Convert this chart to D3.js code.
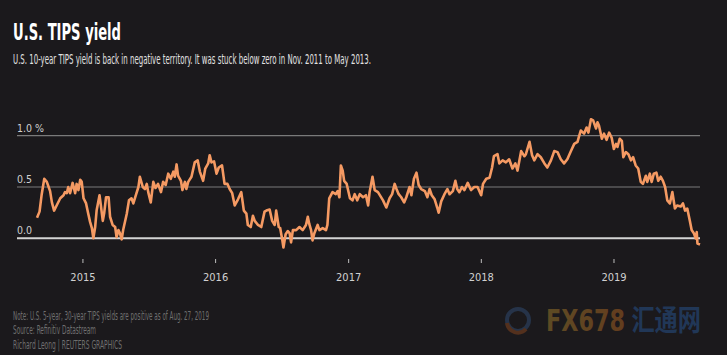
<!DOCTYPE html>
<html>
<head>
<meta charset="utf-8">
<script src="https://cdn.jsdelivr.net/npm/d3@7"></script>
<style>
  html, body { margin: 0; padding: 0; background: #1b191c; }
  svg { display: block; }
  text { font-family: "Liberation Sans Narrow", "DejaVu Sans Condensed", "Roboto", sans-serif; }
</style>
</head>
<body>
<svg id="chart" width="727" height="355"></svg>
<script>
// ---------- DATA ----------
const title = "U.S. TIPS yield";
const subtitle = "U.S. 10-year TIPS yield is back in negative territory. It was stuck below zero in Nov. 2011 to May 2013.";
const footNotes = [
  "Note: U.S. 5-year, 30-year TIPS yields are positive as of Aug. 27, 2019",
  "Source: Refinitiv Datastream",
  "Richard Leong   | REUTERS GRAPHICS"
];
const yTicks = [0, 0.5, 1.0];
const yTickLabels = ["0.0", "0.5", "1.0 %"];
const xTickYears = ["2015", "2016", "2017", "2018", "2019"];

const dates = [
  "2014-08-29","2014-09-05","2014-09-11","2014-09-18","2014-09-25","2014-09-30","2014-10-04","2014-10-09","2014-10-15","2014-10-22",
  "2014-11-01","2014-11-10","2014-11-14","2014-11-19","2014-11-23","2014-11-28","2014-12-05","2014-12-12","2014-12-16","2014-12-21",
  "2014-12-26","2014-12-30","2015-01-04","2015-01-11","2015-01-17","2015-01-22","2015-01-27","2015-01-31","2015-02-05","2015-02-09",
  "2015-02-17","2015-02-20","2015-02-26","2015-03-02","2015-03-07","2015-03-14","2015-03-18","2015-03-25","2015-04-01","2015-04-05",
  "2015-04-10","2015-04-14","2015-04-19","2015-04-23","2015-05-03","2015-05-09","2015-05-16","2015-05-21","2015-05-28","2015-06-04",
  "2015-06-08","2015-06-16","2015-06-22","2015-06-27","2015-07-01","2015-07-08","2015-07-15","2015-07-21","2015-07-28","2015-08-05",
  "2015-08-11","2015-08-18","2015-08-25","2015-09-01","2015-09-08","2015-09-12","2015-09-17","2015-09-21","2015-09-29","2015-10-03",
  "2015-10-10","2015-10-14","2015-10-19","2015-10-28","2015-11-06","2015-11-14","2015-11-20","2015-11-29","2015-12-05","2015-12-13",
  "2015-12-17","2015-12-22","2015-12-29","2016-01-05","2016-01-11","2016-01-20","2016-01-27","2016-02-04","2016-02-10","2016-02-17",
  "2016-02-24","2016-03-04","2016-03-13","2016-03-20","2016-03-27","2016-03-31","2016-04-08","2016-04-14","2016-04-19","2016-04-28",
  "2016-05-07","2016-05-16","2016-05-21","2016-05-30","2016-06-06","2016-06-13","2016-06-17","2016-06-24","2016-06-28","2016-07-04",
  "2016-07-07","2016-07-13","2016-07-19","2016-07-24","2016-07-28","2016-08-02","2016-08-11","2016-08-20","2016-08-29","2016-09-07",
  "2016-09-12","2016-09-16","2016-09-21","2016-09-25","2016-09-30","2016-10-09","2016-10-14","2016-10-23","2016-11-01","2016-11-05",
  "2016-11-10","2016-11-19","2016-11-28","2016-12-03","2016-12-08","2016-12-12","2016-12-17","2016-12-21","2016-12-28","2017-01-06",
  "2017-01-13","2017-01-19","2017-01-26","2017-02-02","2017-02-11","2017-02-19","2017-02-25","2017-03-01","2017-03-09","2017-03-15",
  "2017-03-24","2017-04-07","2017-04-16","2017-04-25","2017-05-02","2017-05-09","2017-05-14","2017-05-20","2017-05-27","2017-06-04",
  "2017-06-10","2017-06-19","2017-06-24","2017-07-01","2017-07-08","2017-07-14","2017-07-21","2017-07-31","2017-08-07","2017-08-13",
  "2017-08-19","2017-08-27","2017-09-03","2017-09-07","2017-09-14","2017-09-23","2017-10-01","2017-10-07","2017-10-16","2017-10-23",
  "2017-10-28","2017-11-03","2017-11-10","2017-11-17","2017-11-26","2017-12-05","2017-12-14","2017-12-23","2018-01-02","2018-01-07",
  "2018-01-16","2018-01-25","2018-02-01","2018-02-06","2018-02-16","2018-02-21","2018-03-02","2018-03-11","2018-03-20","2018-03-29",
  "2018-04-06","2018-04-12","2018-04-22","2018-05-01","2018-05-05","2018-05-15","2018-05-22","2018-05-28","2018-06-06","2018-06-15",
  "2018-06-25","2018-07-03","2018-07-13","2018-07-22","2018-07-31","2018-08-09","2018-08-18","2018-08-27","2018-09-06","2018-09-15",
  "2018-09-24","2018-09-28","2018-10-03","2018-10-12","2018-10-19","2018-10-24","2018-10-31","2018-11-06","2018-11-14","2018-11-18",
  "2018-11-22","2018-11-30","2018-12-06","2018-12-13","2018-12-20","2018-12-27","2019-01-02","2019-01-08","2019-01-12","2019-01-18",
  "2019-01-24","2019-01-28","2019-02-04","2019-02-11","2019-02-18","2019-02-24","2019-03-03","2019-03-10","2019-03-17","2019-03-23",
  "2019-03-31","2019-04-04","2019-04-11","2019-04-16","2019-04-22","2019-04-29","2019-05-04","2019-05-11","2019-05-17","2019-05-23",
  "2019-05-29","2019-06-05","2019-06-12","2019-06-19","2019-06-25","2019-07-05","2019-07-11","2019-07-17","2019-07-23","2019-07-30",
  "2019-08-04","2019-08-10","2019-08-15","2019-08-18","2019-08-20","2019-08-27"
];
const yields = [
  0.20,0.26,0.43,0.58,0.55,0.50,0.46,0.35,0.27,0.32,
  0.39,0.42,0.45,0.44,0.50,0.44,0.54,0.44,0.53,0.47,
  0.57,0.55,0.39,0.34,0.24,0.16,0.10,0.00,0.11,0.27,
  0.42,0.34,0.17,0.25,0.40,0.40,0.21,0.13,0.11,0.01,
  0.08,0.05,-0.01,0.08,0.24,0.37,0.39,0.34,0.42,0.50,
  0.60,0.50,0.48,0.53,0.45,0.35,0.55,0.49,0.53,0.45,
  0.55,0.52,0.63,0.58,0.65,0.60,0.72,0.61,0.56,0.47,
  0.55,0.48,0.55,0.60,0.74,0.76,0.65,0.56,0.68,0.73,
  0.81,0.74,0.75,0.63,0.69,0.71,0.53,0.53,0.48,0.44,
  0.32,0.38,0.45,0.27,0.24,0.13,0.11,0.22,0.17,0.13,
  0.11,0.26,0.27,0.28,0.17,0.13,0.27,0.11,0.10,-0.02,
  -0.09,0.04,0.07,0.05,-0.04,0.08,0.08,0.11,0.08,0.13,
  0.21,0.14,0.08,-0.02,0.05,0.13,0.08,0.10,0.08,0.13,
  0.39,0.45,0.43,0.46,0.40,0.71,0.66,0.56,0.53,0.39,
  0.37,0.43,0.37,0.43,0.40,0.42,0.32,0.45,0.60,0.47,
  0.45,0.37,0.30,0.39,0.43,0.53,0.48,0.43,0.40,0.35,
  0.40,0.50,0.42,0.58,0.64,0.52,0.48,0.46,0.40,0.48,
  0.42,0.38,0.30,0.25,0.36,0.43,0.48,0.43,0.46,0.56,
  0.48,0.45,0.50,0.47,0.54,0.47,0.50,0.50,0.42,0.53,
  0.58,0.59,0.69,0.80,0.82,0.73,0.76,0.74,0.77,0.68,
  0.73,0.66,0.85,0.80,0.82,0.94,0.81,0.76,0.82,0.79,
  0.73,0.69,0.76,0.85,0.84,0.77,0.73,0.77,0.85,0.92,
  0.94,0.99,1.05,1.02,1.08,1.03,1.16,1.15,1.07,1.13,
  1.10,0.97,1.02,0.96,1.03,0.98,0.87,0.92,0.89,0.97,
  0.95,0.79,0.84,0.82,0.76,0.79,0.71,0.68,0.55,0.53,
  0.61,0.55,0.63,0.55,0.63,0.64,0.56,0.60,0.56,0.50,
  0.37,0.34,0.45,0.29,0.32,0.31,0.34,0.27,0.29,0.17,
  0.08,0.05,0.00,0.06,-0.05,-0.06
];

// ---------- CHART ----------
const svg = d3.select("#chart");
const parse = d3.timeParse("%Y-%m-%d");
const data = dates.map((d, i) => ({ date: parse(d), value: yields[i] }));

const plot = { left: 37, right: 700, gridLeft: 17, top: 135.7, zeroY: 238.3, axisY: 259 };

const x = d3.scaleTime()
  .domain(d3.extent(data, d => d.date))
  .range([plot.left, plot.right]);
const y = d3.scaleLinear()
  .domain([0, 1])
  .range([plot.zeroY, plot.top]);

// background
svg.append("rect").attr("width", 727).attr("height", 355).attr("fill", "#1b191c");

// title and subtitle
svg.append("text").text(title)
  .attr("x", 13).attr("y", 39.5)
  .attr("fill", "#ffffff").attr("font-size", 23).attr("font-weight", "bold")
  .attr("textLength", 108).attr("lengthAdjust", "spacingAndGlyphs");
svg.append("text").text(subtitle)
  .attr("x", 13).attr("y", 64)
  .attr("fill", "#e2e2e2").attr("font-size", 13.5)
  .attr("textLength", 358).attr("lengthAdjust", "spacingAndGlyphs");

// gridlines
const grid = svg.append("g");
yTicks.forEach((t, i) => {
  const isZero = t === 0;
  grid.append("line")
    .attr("x1", plot.gridLeft).attr("x2", plot.right)
    .attr("y1", y(t)).attr("y2", y(t))
    .attr("stroke", isZero ? "#d4d4d4" : "#7a7a7a")
    .attr("stroke-width", isZero ? 2 : 1.2);
  grid.append("text").text(yTickLabels[i])
    .attr("x", plot.gridLeft).attr("y", y(t) - 4)
    .attr("fill", "#d0d0d0").attr("font-size", 10.5);
});

// x axis (ticks + labels only)
const xAxis = d3.axisBottom(x)
  .tickValues(xTickYears.map(yr => d3.timeParse("%Y")(yr)))
  .tickFormat(d3.timeFormat("%Y"))
  .tickSize(4).tickPadding(10);
const gx = svg.append("g")
  .attr("transform", `translate(0,${plot.axisY})`)
  .call(xAxis);
gx.select(".domain").remove();
gx.selectAll(".tick line").attr("stroke", "#bdbdbd");
gx.selectAll(".tick text")
  .attr("fill", "#d0d0d0").attr("font-size", 11)
  .style("font-family", "'Liberation Sans Narrow', 'DejaVu Sans Condensed', sans-serif");

// line
const line = d3.line()
  .x(d => x(d.date))
  .y(d => y(d.value))
  .curve(d3.curveLinear);
svg.append("path")
  .datum(data)
  .attr("d", line)
  .attr("fill", "none")
  .attr("stroke", "#f59a63")
  .attr("stroke-width", 2.6)
  .attr("stroke-linejoin", "round");

// footnotes
const footY = [319.5, 334, 348.5];
const footW = [196, 83, 109];
footNotes.forEach((t, i) => {
  svg.append("text").text(t)
    .attr("x", 13).attr("y", footY[i])
    .attr("fill", "#6f6f6f").attr("font-size", 11.5)
    .attr("textLength", footW[i]).attr("lengthAdjust", "spacingAndGlyphs");
});

// watermark
const wm = svg.append("g").attr("opacity", 0.7);
wm.append("circle").attr("cx", 518).attr("cy", 320).attr("r", 11)
  .attr("fill", "none").attr("stroke", "#2b3f5c").attr("stroke-width", 4);
wm.append("path").attr("d", "M507,323 A11,11 0 0 0 526,329")
  .attr("fill", "none").attr("stroke", "#6b3a1e").attr("stroke-width", 4);
const grad = svg.append("defs").append("linearGradient").attr("id", "fxg")
  .attr("x1", "0").attr("x2", "1");
grad.append("stop").attr("offset", "0").attr("stop-color", "#7a6028");
grad.append("stop").attr("offset", "1").attr("stop-color", "#8a3a18");
const wmText = wm.append("text")
  .attr("transform", "translate(546,331) scale(0.8,1)")
  .attr("font-weight", "bold");
wmText.append("tspan").text("FX678")
  .attr("font-size", 31).attr("fill", "url(#fxg)");
wmText.append("tspan").text("汇通网")
  .attr("dx", 8).attr("font-size", 29)
  .style("font-family", "'Noto Sans CJK SC', sans-serif")
  .attr("fill", "#244470");
</script>
</body>
</html>
